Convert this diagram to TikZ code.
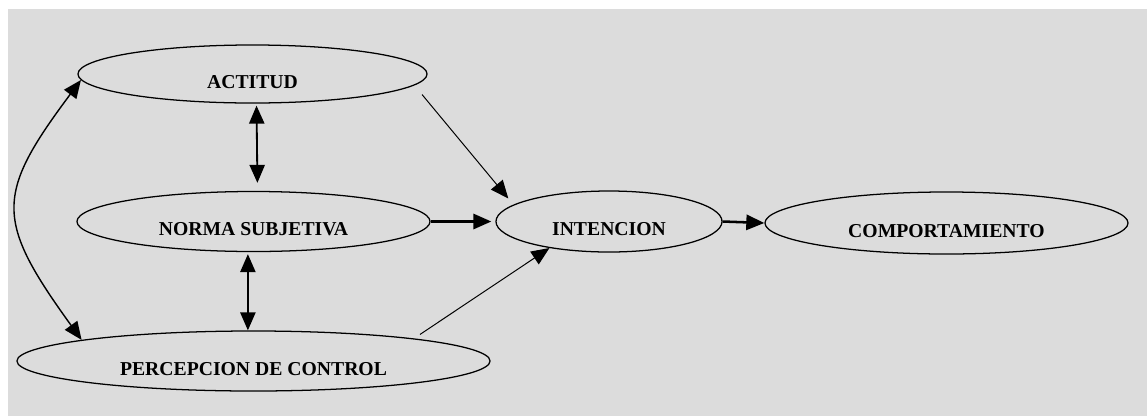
\documentclass[tikz,border=0pt]{standalone}
\usepackage{fontspec}
\setmainfont{Liberation Serif}
\usetikzlibrary{arrows.meta,shapes.geometric}
\definecolor{fondo}{HTML}{DCDCDC}

\begin{document}
\begin{tikzpicture}[x = 0.025cm, y = -0.025cm,
  ovalo/.style = {draw, ellipse, line width = 0.9pt, inner sep = 0pt,
    font = \bfseries\fontsize{14}{16}\selectfont, text height = 20pt, text depth = 0pt},
  flecha/.style = {-{Triangle[length = 0.45cm, width = 0.38cm]}, line width = 0.7pt},
  gruesa/.style = {-{Triangle[length = 0.45cm, width = 0.38cm]}, line width = 1.8pt},
  doble/.style = {{Triangle[length = 0.45cm, width = 0.38cm]}-{Triangle[length = 0.45cm, width = 0.38cm]}, line width = 1.3pt}]
\useasboundingbox (0,0) rectangle (1147,416);
\fill [white] (0,0) rectangle (1147,416);
\fill [fondo] (8,9) rectangle (1147,416);

% nodos
\node [ovalo, minimum width = 8.725cm, minimum height = 1.45cm] (actitud) at (252.5,74) {ACTITUD};
\node [ovalo, minimum width = 8.825cm, minimum height = 1.5cm] (norma) at (253.5,221.5) {NORMA SUBJETIVA};
\node [ovalo, minimum width = 11.825cm, minimum height = 1.5cm] (percepcion) at (253.5,361) {PERCEPCION DE CONTROL};
\node [ovalo, minimum width = 5.65cm, minimum height = 1.525cm] (intencion) at (609,221.5) {INTENCION};
\node [ovalo, minimum width = 9.075cm, minimum height = 1.55cm] (comportamiento) at (946.5,223) {COMPORTAMIENTO};

% flechas
\draw [flecha, shorten <= 0.3cm, shorten >= 0.2cm] (actitud.-4) -- (intencion.170);
\draw [gruesa, shorten >= 0.1cm] (norma.east) -- (intencion.west);
\draw [flecha, shorten <= 0.18cm] (percepcion.8) -- (intencion.204);
\draw [gruesa] (intencion.east) -- (comportamiento.west);
\draw [doble, shorten <= 0.05cm, shorten >= 0.2cm] ([xshift = 0.1cm]actitud.south) -- ([xshift = 0.1cm]norma.north);
\draw [doble, shorten <= 0.05cm] ([xshift = -0.14cm]norma.south) -- ([xshift = -0.14cm]percepcion.north);
\draw [doble, line width = 1pt] (actitud.182) .. controls (-5,195) and (-5,220) .. (percepcion.173.5);
\end{tikzpicture}
\end{document}
